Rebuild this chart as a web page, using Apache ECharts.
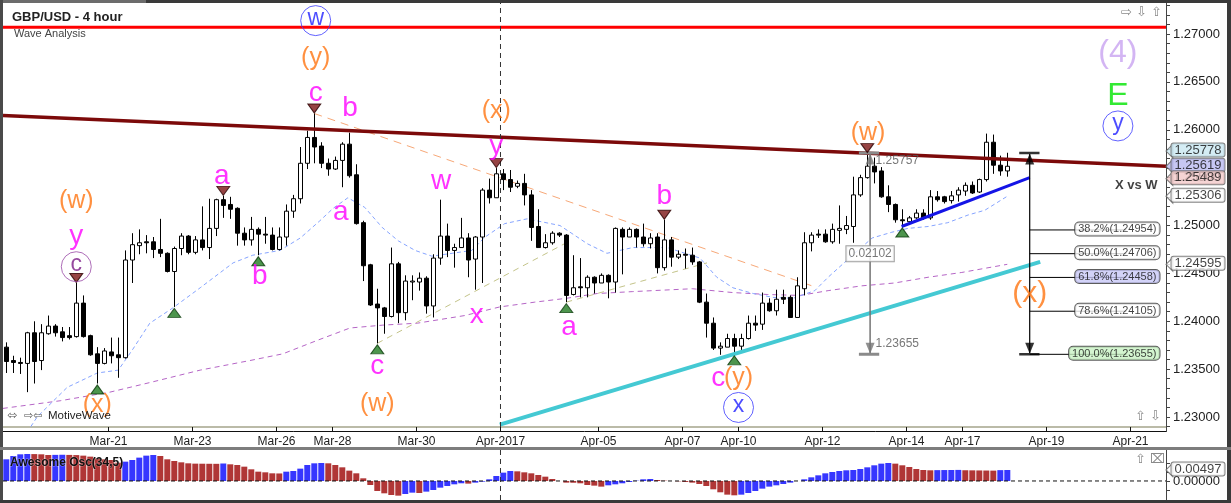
<!DOCTYPE html>
<html><head><meta charset="utf-8">
<script src="https://cdn.jsdelivr.net/npm/echarts@6/dist/echarts.min.js"></script>
<style>html,body{margin:0;padding:0;background:#fff;overflow:hidden}#c{width:1231px;height:503px}</style>
</head><body><div id="c"></div>
<script>
// ---------- DATA ----------
// 4-hour candles, one per bar index: [open, close, low, high]
const candles = [
[1.2373,1.2358,1.2346,1.2378],[1.2359,1.2357,1.2346,1.2364],[1.2357,1.2356,1.2345,1.2362],[1.2356,1.2388,1.2326,1.2389],
[1.2388,1.2358,1.2335,1.2400],[1.2359,1.2388,1.2349,1.2397],[1.2387,1.2395,1.2386,1.2406],[1.2395,1.2388,1.2384,1.2397],
[1.2389,1.2383,1.2379,1.2394],[1.2385,1.2383,1.2381,1.2394],[1.2384,1.2419,1.2383,1.2440],[1.2419,1.2384,1.2383,1.2427],
[1.2385,1.2365,1.2364,1.2386],[1.2366,1.2356,1.2335,1.2373],[1.2356,1.2369,1.2355,1.2372],[1.2368,1.2364,1.2356,1.2383],
[1.2365,1.2362,1.2341,1.2383],[1.2362,1.2464,1.2361,1.2474],[1.2464,1.2480,1.2440,1.2492],[1.2479,1.2482,1.2470,1.2496],
[1.2483,1.2482,1.2471,1.2490],[1.2483,1.2475,1.2466,1.2488],[1.2475,1.2471,1.2467,1.2507],[1.2471,1.2452,1.2451,1.2472],
[1.2452,1.2476,1.2415,1.2478],[1.2476,1.2489,1.2469,1.2492],[1.2489,1.2472,1.2470,1.2490],[1.2472,1.2485,1.2470,1.2489],
[1.2485,1.2477,1.2474,1.2520],[1.2477,1.2497,1.2465,1.2528],[1.2497,1.2527,1.2489,1.2528],[1.2527,1.2521,1.2508,1.2531],
[1.2522,1.2517,1.2507,1.2530],[1.2518,1.2492,1.2479,1.2519],[1.2492,1.2485,1.2479,1.2498],[1.2485,1.2496,1.2479,1.2509],
[1.2496,1.2491,1.2469,1.2498],[1.2491,1.2490,1.2481,1.2509],[1.2490,1.2475,1.2474,1.2498],[1.2475,1.2488,1.2474,1.2498],
[1.2488,1.2515,1.2479,1.2522],[1.2515,1.2528,1.2508,1.2532],[1.2528,1.2565,1.2523,1.2582],[1.2565,1.2592,1.2559,1.2599],
[1.2592,1.2582,1.2565,1.2617],[1.2583,1.2565,1.2560,1.2587],[1.2565,1.2559,1.2552,1.2570],[1.2559,1.2568,1.2558,1.2572],
[1.2568,1.2585,1.2540,1.2587],[1.2585,1.2552,1.2550,1.2597],[1.2553,1.2502,1.2501,1.2564],[1.2503,1.2458,1.2442,1.2505],
[1.2459,1.2417,1.2416,1.2460],[1.2418,1.2414,1.2377,1.2434],[1.2414,1.2405,1.2387,1.2415],[1.2405,1.2460,1.2404,1.2477],
[1.2460,1.2409,1.2398,1.2462],[1.2409,1.2442,1.2401,1.2448],[1.2441,1.2442,1.2422,1.2448],[1.2441,1.2445,1.2432,1.2451],
[1.2445,1.2416,1.2408,1.2447],[1.2416,1.2466,1.2404,1.2470],[1.2466,1.2489,1.2459,1.2527],[1.2489,1.2474,1.2467,1.2502],
[1.2474,1.2477,1.2456,1.2481],[1.2477,1.2487,1.2477,1.2508],[1.2487,1.2464,1.2446,1.2492],[1.2465,1.2488,1.2433,1.2489],
[1.2488,1.2537,1.2440,1.2539],[1.2537,1.2529,1.2523,1.2549],[1.2529,1.2554,1.2529,1.2560],[1.2554,1.2548,1.2537,1.2559],
[1.2548,1.2540,1.2535,1.2558],[1.2541,1.2544,1.2539,1.2547],[1.2544,1.2532,1.2521,1.2554],[1.2532,1.2498,1.2484,1.2537],
[1.2499,1.2477,1.2477,1.2517],[1.2477,1.2482,1.2476,1.2491],[1.2482,1.2492,1.2480,1.2494],[1.2492,1.2490,1.2488,1.2493],
[1.2490,1.2427,1.2420,1.2491],[1.2428,1.2435,1.2427,1.2469],[1.2436,1.2435,1.2425,1.2466],[1.2435,1.2446,1.2425,1.2448],
[1.2446,1.2440,1.2429,1.2447],[1.2440,1.2448,1.2440,1.2450],[1.2448,1.2441,1.2424,1.2449],[1.2441,1.2497,1.2430,1.2498],
[1.2496,1.2488,1.2449,1.2498],[1.2488,1.2496,1.2488,1.2498],[1.2496,1.2488,1.2477,1.2497],[1.2488,1.2481,1.2478,1.2502],
[1.2481,1.2487,1.2476,1.2492],[1.2488,1.2456,1.2450,1.2492],[1.2456,1.2485,1.2453,1.2506],[1.2485,1.2467,1.2457,1.2488],
[1.2467,1.2470,1.2465,1.2474],[1.2470,1.2469,1.2455,1.2476],[1.2469,1.2462,1.2459,1.2477],[1.2462,1.2420,1.2419,1.2463],
[1.2420,1.2398,1.2383,1.2429],[1.2398,1.2372,1.2370,1.2404],[1.2372,1.2374,1.2365,1.2378],[1.2373,1.2382,1.2373,1.2387],
[1.2382,1.2374,1.23655,1.2387],[1.2374,1.2382,1.2369,1.2387],[1.2382,1.2398,1.2381,1.2406],[1.2398,1.2396,1.2390,1.2406],
[1.2397,1.2419,1.2391,1.2430],[1.2419,1.2411,1.2410,1.2424],[1.2411,1.2423,1.2406,1.2433],[1.2425,1.2423,1.2418,1.2433],
[1.2425,1.2404,1.2404,1.2427],[1.2404,1.2437,1.2404,1.2446],[1.2434,1.2482,1.2427,1.2493],[1.2482,1.2490,1.2473,1.2493],
[1.2491,1.2490,1.2487,1.2496],[1.2491,1.2483,1.2482,1.2496],[1.2483,1.2496,1.2481,1.2502],[1.2495,1.2497,1.2481,1.2521],
[1.2496,1.2500,1.2491,1.2510],[1.2499,1.2532,1.2482,1.2551],[1.2532,1.2550,1.2530,1.2553],[1.2550,1.2562,1.2549,1.25757],
[1.2562,1.2556,1.2544,1.2571],[1.2557,1.2530,1.2529,1.2561],[1.2530,1.2522,1.2514,1.2542],[1.2522,1.2506,1.2503,1.2523],
[1.2506,1.2505,1.2499,1.2517],[1.2504,1.2508,1.2503,1.2510],[1.2508,1.2513,1.2507,1.2517],[1.2513,1.2508,1.2506,1.2517],
[1.2508,1.2530,1.2506,1.2537],[1.2530,1.2527,1.2525,1.2536],[1.2530,1.2525,1.2523,1.2531],[1.2526,1.2531,1.2523,1.2536],
[1.2532,1.2537,1.2525,1.2540],[1.2536,1.2542,1.2531,1.2545],[1.2542,1.2534,1.2533,1.2546],[1.2535,1.2548,1.2534,1.2549],
[1.2548,1.2587,1.2546,1.2596],[1.2587,1.2563,1.2554,1.2595],[1.2563,1.2557,1.2552,1.2573],[1.2557,1.25619,1.2551,1.2576]
];

// Awesome Oscillator (34,5), one value per bar
const aoValues = [
0.00979,0.01130,0.01205,0.01220,0.01215,0.01205,0.01175,0.01180,0.01185,0.01178,
0.01170,0.01145,0.01100,0.01024,0.00979,0.00949,0.00828,0.00873,0.00949,0.01055,
0.01145,0.01175,0.01130,0.00979,0.00903,0.00843,0.00798,0.00783,0.00780,0.00777,
0.00775,0.00790,0.00753,0.00723,0.00647,0.00527,0.00421,0.00391,0.00346,0.00340,
0.00421,0.00451,0.00557,0.00723,0.00798,0.00813,0.00798,0.00723,0.00617,0.00467,
0.00346,0.00120,-0.00181,-0.00452,-0.00558,-0.00633,-0.00663,-0.00588,-0.00528,-0.00543,
-0.00482,-0.00407,-0.00302,-0.00226,-0.00151,-0.00105,-0.00120,-0.00075,-0.00030,0.00075,
0.00225,0.00376,0.00451,0.00436,0.00391,0.00346,0.00270,0.00195,0.00090,0.00000,
-0.00075,-0.00080,-0.00105,-0.00181,-0.00211,-0.00256,-0.00196,-0.00151,-0.00105,-0.00045,
0.00014,0.00075,0.00090,0.00045,0.00014,0.00000,-0.00015,-0.00045,-0.00075,-0.00136,
-0.00226,-0.00377,-0.00512,-0.00618,-0.00648,-0.00618,-0.00543,-0.00452,-0.00347,-0.00256,
-0.00196,-0.00136,-0.00075,0.00000,0.00075,0.00165,0.00255,0.00346,0.00406,0.00451,
0.00482,0.00497,0.00542,0.00617,0.00708,0.00783,0.00813,0.00783,0.00708,0.00632,
0.00542,0.00497,0.00482,0.00490,0.00494,0.00497,0.00500,0.00485,0.00480,0.00476,
0.00472,0.00468,0.00490,0.00497
];

// moving averages: [bar index, price]
const blueMA = [[3.5,1.2290],[4.4,1.2300],[8.7,1.2331],[13,1.2346],[16,1.2349],[18,1.2370],[20.5,1.2398],[23.8,1.2414],[27.7,1.2435],[32.4,1.2461],[35.2,1.2469],[39.1,1.2474],[42,1.2487],[44.8,1.2505],[46.7,1.2518],[48.8,1.2529],[51.2,1.2519],[53.7,1.2498],[56,1.2484],[58.4,1.2474],[60.8,1.2468],[63.7,1.2471],[66.5,1.2474],[68.4,1.2488],[71.2,1.2502],[74.4,1.2507],[79.1,1.2500],[83,1.2481],[85.8,1.2471],[89.5,1.2477],[94.4,1.2477],[99.1,1.2466],[101.5,1.2446],[103.8,1.2435],[106.7,1.2429],[109.5,1.2425],[112.4,1.2424],[115.5,1.2432],[117.4,1.2446],[121.2,1.2471],[123.7,1.2487],[126.5,1.2493],[128.8,1.2497],[131.7,1.2499],[134.5,1.2503],[137.4,1.2511],[139.8,1.2516],[143,1.25306]];
const purpleMA = [[-0.5,1.2309],[7.7,1.2317],[14.8,1.2326],[20.5,1.2336],[27.7,1.2349],[34.8,1.2359],[39.5,1.2366],[44.4,1.2380],[49.1,1.2393],[53.8,1.2396],[58.7,1.2398],[65.5,1.2406],[70.5,1.2415],[75.5,1.2420],[80,1.2424],[84.4,1.2429],[89.5,1.2431],[98,1.2434],[103.8,1.2430],[108.7,1.2428],[113.4,1.2427],[117.4,1.2432],[122.2,1.2437],[126.9,1.2440],[131.7,1.2446],[136.5,1.2451],[143,1.24595]];

// x-axis day labels: [label, first bar of the day]
const dayTicks = [['Mar-21',15],['Mar-23',27],['Mar-26',39],['Mar-28',47],['Mar-30',59],['Apr-2017',71],['Apr-05',85],['Apr-07',97],['Apr-10',105],['Apr-12',117],['Apr-14',129],['Apr-17',137],['Apr-19',149],['Apr-21',161]];
const priceTicks = [1.23,1.235,1.24,1.245,1.25,1.255,1.26,1.265,1.27];
const monthSeparator = 'Apr-2017';

// drawn trend lines: [bar index, price] end points
const resistanceLine = [[-0.47,1.2615],[165.67,1.2562]];
const cyanSupport = [[70.5,1.2292],[147.7,1.2462]];
const blueSupport = [[127.9,1.2499],[146.2,1.2550]];
const orangeDashed = [[44,1.2617],[115.1,1.2437]];
const oliveDashed1 = [[53,1.2377],[80,1.2482]];
const oliveDashed2 = [[80,1.2420],[100.1,1.2461]];
const redLevel = 1.2707;

const pivotLows = [13,24,36,53,80,104,128];
const pivotHighs = [10,31,44,70,94,123];

// wave labels: [text, bar index, price, style]
const waveLabels = [
['(y)',44.2,1.2675,'orange'],['c',44.2,1.2638,'magenta'],['b',49.1,1.2622,'magenta'],
['(w)',10,1.2526,'orange'],['y',10,1.2489,'magenta'],['a',30.8,1.2551,'magenta'],
['a',47.8,1.2514,'magenta'],['b',36.2,1.2447,'magenta'],['(x)',13,1.2312,'orange'],
['c',53,1.2353,'magenta'],['(w)',53,1.2314,'orange'],['w',62.1,1.2546,'magenta'],
['x',67.2,1.2406,'magenta'],['(x)',70,1.2619,'orange'],['y',70,1.2583,'magenta'],
['a',80.4,1.2394,'magenta'],['b',94,1.2531,'magenta'],['c',101.7,1.2340,'magenta'],
['(y)',104.6,1.2341,'orange'],['(w)',123.1,1.2596,'orange'],['(x)',146.2,1.2429,'orangeBig'],
['(4)',158.8,1.2680,'lavender'],['E',158.8,1.2635,'green']
];
const circledLabels = [['w',44.2,1.2714,'blue'],['c',10,1.2457,'purple'],['x',104.6,1.2310,'blue'],['y',158.8,1.2604,'blue']];

// measurement W high -> X low
const wHigh = 1.25757, xLow = 1.23655;
const measureBar = 123.4, fibBar = 146.2;
const fibLevels = [['38.2%',1.24954,'#ffffff'],['50.0%',1.24706,'#ffffff'],['61.8%',1.24458,'#c8c8f6'],['78.6%',1.24105,'#ffffff'],['100.0%',1.23655,'#c9f3c4']];
const axisTags = [[1.25778,'#c9e7f1'],[1.25619,'#b9b9f0'],[1.25489,'#f3c9c9'],[1.25306,'#ffffff'],[1.24595,'#ffffff']];
const aoTag = 0.00497;

// ---------- CHART ----------
const FONT = '"Liberation Sans", Arial, sans-serif';
const X_MIN = -0.47, X_MAX = 165.67;
const Y_MIN = 1.22896, Y_MAX = 1.27324;
const AO_MIN = -0.0086, AO_MAX = 0.0140;
const COLORS = {magenta:'#ff00ff', orange:'#ff7410', orangeBig:'#ff7410', lavender:'#c8a2f0', green:'#00e400', blue:'#2020ff', purple:'#7a1a86'};
const SIZES = {magenta:28, orange:25, orangeBig:30, lavender:32, green:32};

const tickVals = dayTicks.map(d => d[1] - 0.4);
const minorTicks = [];
for (let k = 1229; k <= 1273; k++) minorTicks.push(k / 1000);

const aoColors = aoValues.map((v, i) => {
  if (i === 0) return '#3636ff';
  return v >= aoValues[i-1] ? '#3636ff' : '#b03636';
});
for (let i = 1; i < aoValues.length; i++) if (aoValues[i] === aoValues[i-1]) aoColors[i] = aoColors[i-1];

function seg(data, color, width, type, z, xi, yi) {
  return {type:'line', xAxisIndex: xi || 0, yAxisIndex: yi || 0, data, symbol:'none', silent:true, z: z || 4,
    lineStyle:{color, width, type: type || 'solid'}, animation:false};
}

const sepTick = tickVals[dayTicks.findIndex(d => d[0] === monthSeparator)];

const series = [];
series.push(seg(purpleMA, '#b565c6', 1, [5,4], 2));
series.push(seg(blueMA, '#86a4ff', 1, [4,3], 2));
series.push(seg(oliveDashed1, '#c4c48a', 1, [6,5], 2));
series.push(seg(oliveDashed2, '#c4c48a', 1, [6,5], 2));
series.push(seg(orangeDashed, '#f7a878', 1, [8,6], 2));
series.push({
  type:'candlestick', xAxisIndex:0, yAxisIndex:0, z:3, barWidth:5,
  data: candles.map((c, i) => [i, c[0], c[1], c[2], c[3]]),
  encode:{x:0, y:[1,2,3,4]},
  itemStyle:{color:'#ffffff', color0:'#000000', borderColor:'#000000', borderColor0:'#000000', borderColorDoji:'#000000', borderWidth:1},
  animation:false, silent:true
});
series.push(seg(resistanceLine, '#7c0a0a', 3.5, 'solid', 5));
series.push(seg(cyanSupport, '#44c9d3', 4, 'solid', 5));
series.push(seg(blueSupport, '#1414e6', 3, 'solid', 5));
// red level + month separator
series.push(seg([[X_MIN, redLevel],[X_MAX, redLevel]], '#ff0000', 3, 'solid', 5));
series.push(seg([[sepTick, Y_MIN],[sepTick, Y_MAX]], '#333', 1, [5,4], 5));
// gray measurement
const gray = '#747474';
series.push(seg([[measureBar, wHigh],[measureBar, xLow]], gray, 1.5, 'solid', 6));
series.push(seg([[measureBar-1.6, wHigh],[measureBar+1.3, wHigh]], '#8a8a8a', 3, 'solid', 6));
series.push(seg([[measureBar-1.6, xLow],[measureBar+1.3, xLow]], '#8a8a8a', 3, 'solid', 6));
// black fib tool
series.push(seg([[fibBar, wHigh],[fibBar, xLow]], '#000', 1.2, 'solid', 6));
series.push(seg([[fibBar-1.5, wHigh],[fibBar+1.4, wHigh]], '#333', 2.5, 'solid', 6));
series.push(seg([[fibBar-1.5, xLow],[fibBar+1.4, xLow]], '#333', 2.5, 'solid', 6));
fibLevels.forEach(f => series.push(seg([[fibBar, f[1]],[160, f[1]]], '#000', 1, 'solid', 6)));

// arrows
series.push({type:'scatter', xAxisIndex:0, yAxisIndex:0, z:7, silent:true, animation:false,
  data:[
    {value:[measureBar, wHigh], symbol:'triangle', symbolSize:[9,11], symbolOffset:[0,6], itemStyle:{color:gray}},
    {value:[measureBar, xLow], symbol:'triangle', symbolRotate:180, symbolSize:[9,11], symbolOffset:[0,-6], itemStyle:{color:gray}},
    {value:[fibBar, wHigh], symbol:'triangle', symbolSize:[9,11], symbolOffset:[0,6], itemStyle:{color:'#000'}},
    {value:[fibBar, xLow], symbol:'triangle', symbolRotate:180, symbolSize:[9,11], symbolOffset:[0,-6], itemStyle:{color:'#000'}}
  ]});
// measurement texts
series.push({type:'scatter', xAxisIndex:0, yAxisIndex:0, z:8, silent:true, animation:false, symbolSize:1, itemStyle:{color:'rgba(0,0,0,0)'},
  data:[
    {value:[measureBar, wHigh], label:{show:true, position:[6,2], formatter: wHigh.toFixed(5), color:'#555', fontSize:12, fontFamily:FONT}},
    {value:[measureBar, xLow], label:{show:true, position:[6,-16], formatter: xLow.toFixed(5), color:'#555', fontSize:12, fontFamily:FONT}},
    {value:[measureBar, (wHigh + xLow) / 2], label:{show:true, position:'inside', formatter:(wHigh - xLow).toFixed(5), color:'#555', fontSize:12, fontFamily:FONT, backgroundColor:'#fff', borderColor:'#888', borderWidth:1, padding:[2,2,1,2]}}
  ]});
// fib level labels
series.push({type:'scatter', xAxisIndex:0, yAxisIndex:0, z:8, silent:true, animation:false, clip:false, symbolSize:1, itemStyle:{color:'rgba(0,0,0,0)'},
  data: fibLevels.map(f => ({value:[X_MAX, f[1]], label:{show:true, position:[-6,-7], align:'right', formatter: f[0] + '(' + f[1].toFixed(5) + ')', color:'#111', fontSize:11, fontFamily:FONT, lineHeight:12, backgroundColor:f[2], borderColor:'#333', borderWidth:1, borderRadius:4, padding:[1,3,0,3]}}))
    .concat([{value:[X_MAX, (fibLevels[0][1] + wHigh) / 2 + 0.0004], label:{show:true, position:[-8,-8], align:'right', formatter:'X vs W', color:'#111', fontSize:13, fontWeight:'bold', fontFamily:FONT}}])
});
// pivot markers
series.push({type:'scatter', xAxisIndex:0, yAxisIndex:0, z:7, silent:true, animation:false, symbol:'triangle', symbolSize:[13,9],
  data: pivotLows.map(i => ({value:[i, candles[i][2]], symbolOffset:[0,6], itemStyle:{color:'#207a20', borderColor:'#0b3a0b', borderWidth:1}}))
    .concat(pivotHighs.map(i => ({value:[i, candles[i][3]], symbolRotate:180, symbolOffset:[0,-5], itemStyle:{color:'#7c1515', borderColor:'#2a0000', borderWidth:1}})))
});
// wave labels
series.push({type:'scatter', xAxisIndex:0, yAxisIndex:0, z:9, silent:true, animation:false, clip:false, symbolSize:1, itemStyle:{color:'rgba(0,0,0,0)'},
  data: waveLabels.map(w => ({value:[w[1], w[2]], label:{show:true, position:'inside', formatter:w[0], color:COLORS[w[3]], fontSize:SIZES[w[3]], fontFamily:FONT}}))
});
series.push({type:'scatter', xAxisIndex:0, yAxisIndex:0, z:9, silent:true, animation:false, clip:false, symbol:'circle', symbolSize:30,
  data: circledLabels.map(w => ({value:[w[1], w[2]], itemStyle:{color:'rgba(255,255,255,0)', borderColor: w[3]==='blue' ? '#3b3bff' : '#9a4aa6', borderWidth:1},
    label:{show:true, position:'inside', formatter:w[0], color:COLORS[w[3]], fontSize:23, fontFamily:FONT, offset:[0,-2]}}))
});
// axis price tags
function tagSeries(list, xi, yi, digits) {
  return [{type:'scatter', xAxisIndex:xi, yAxisIndex:yi, z:10, silent:true, animation:false, clip:false,
    symbol:'triangle', symbolRotate:90, symbolSize:[14,7], symbolOffset:[3.5,0],
    data:list.map(t => ({value:[X_MAX, t[0]], itemStyle:{color:t[1], borderColor:'#666', borderWidth:1}}))},
   {type:'scatter', xAxisIndex:xi, yAxisIndex:yi, z:11, silent:true, animation:false, clip:false, symbolSize:1, itemStyle:{color:'rgba(0,0,0,0)'},
    data:list.map(t => ({value:[X_MAX, t[0]], label:{show:true, position:[6,-7], formatter:t[0].toFixed(digits), color:'#111', fontSize:13, fontFamily:FONT, lineHeight:13, backgroundColor:t[1], borderColor:'#666', borderWidth:1, borderRadius:2, padding:[0,3,0,3]}}))}];
}
tagSeries(axisTags, 0, 0, 5).forEach(s => series.push(s));
// AO
series.push({type:'bar', xAxisIndex:1, yAxisIndex:1, barWidth:6, animation:false, silent:true,
  data: aoValues.map((v, i) => ({value:[i, v], itemStyle:{color:aoColors[i]}}))});
series.push(seg([[X_MIN, 0],[X_MAX, 0]], '#111', 1, [4,3], 5, 1, 1));
series.push(seg([[sepTick, AO_MIN],[sepTick, AO_MAX]], '#333', 1, [5,4], 5, 1, 1));
tagSeries([[aoTag,'#ffffff']], 1, 1, 5).forEach(s => series.push(s));

const txt = (x, y, text, font, fill, extra) => Object.assign({type:'text', x, y, silent:true, z:100,
  style:Object.assign({text, font, fill, verticalAlign:'middle'}, extra || {})});

const option = {
  animation:false,
  backgroundColor:'#ffffff',
  textStyle:{fontFamily:FONT},
  grid:[
    {left:3, top:3, width:1163, height:424, outerBoundsMode:'none', containLabel:false},
    {left:3, top:450, width:1163, height:50, outerBoundsMode:'none', containLabel:false}
  ],
  xAxis:[
    {type:'value', gridIndex:0, min:X_MIN, max:X_MAX, splitLine:{show:false},
     axisLine:{show:true, onZero:false, lineStyle:{color:'#a5a58c', width:1.5}},
     axisTick:{show:true, customValues:tickVals, length:5, lineStyle:{color:'#111'}},
     axisLabel:{show:true, customValues:tickVals, margin:9, fontSize:12, color:'#222', fontFamily:FONT,
       formatter:v => { const k = tickVals.findIndex(t => Math.abs(t - v) < 0.01); return k >= 0 ? dayTicks[k][0] : ''; }}},
    {type:'value', gridIndex:1, min:X_MIN, max:X_MAX, show:false}
  ],
  yAxis:[
    {type:'value', gridIndex:0, position:'right', min:Y_MIN, max:Y_MAX, splitLine:{show:false}, scale:true,
     axisLine:{show:true, onZero:false, lineStyle:{color:'#444'}},
     axisTick:{show:true, customValues:minorTicks, length:4, lineStyle:{color:'#444'}},
     axisLabel:{show:true, customValues:priceTicks, formatter:v => v.toFixed(5), margin:7, fontSize:13, color:'#222', fontFamily:FONT}},
    {type:'value', gridIndex:1, position:'right', min:AO_MIN, max:AO_MAX, splitLine:{show:false},
     axisLine:{show:true, onZero:false, lineStyle:{color:'#444'}},
     axisTick:{show:true, customValues:[-0.004,0,0.004,0.008], length:4, lineStyle:{color:'#444'}},
     axisLabel:{show:true, customValues:[0], formatter:() => '0.00000', margin:7, fontSize:13, color:'#222', fontFamily:FONT}}
  ],
  graphic:[
    {type:'rect', shape:{x:0,y:0,width:1231,height:3}, style:{fill:'#3a3a3a'}, silent:true, z:100},
    {type:'rect', shape:{x:0,y:0,width:146,height:3}, style:{fill:'#6c6c6c'}, silent:true, z:100},
    {type:'rect', shape:{x:0,y:0,width:3,height:503}, style:{fill:'#4a4a4a'}, silent:true, z:100},
    {type:'rect', shape:{x:1227,y:0,width:4,height:503}, style:{fill:'#3a3a3a'}, silent:true, z:100},
    {type:'rect', shape:{x:0,y:500,width:1231,height:3}, style:{fill:'#3a3a3a'}, silent:true, z:100},
    {type:'rect', shape:{x:0,y:447,width:1231,height:3}, style:{fill:'#7d7d7d'}, silent:true, z:100},
    {type:'line', shape:{x1:3,y1:431.5,x2:1166,y2:431.5}, style:{stroke:'#111', lineWidth:1}, silent:true, z:100},
    {type:'line', shape:{x1:1166.5,y1:427,x2:1166.5,y2:432}, style:{stroke:'#444', lineWidth:1}, silent:true, z:100},
    txt(12, 17, 'GBP/USD - 4 hour', 'bold 13px ' + FONT, '#222'),
    txt(14, 34, 'Wave Analysis', '11px ' + FONT, '#444'),
    txt(7, 416, '\u2B04', '12px "DejaVu Sans"', '#555'),
    txt(24, 416, '\u21E8\u21E6', '11px "DejaVu Sans"', '#555'),
    txt(48, 416, 'MotiveWave', '11.5px ' + FONT, '#222'),
    txt(1121, 13, '\u21E8 \u21E9 \u21E7', '13px "DejaVu Sans"', '#8a8a8a'),
    txt(1135, 417, '\u21E7 \u21E9', '13px "DejaVu Sans"', '#8a8a8a'),
    txt(1135, 460, '\u21E7 \u2327', '13px "DejaVu Sans"', '#8a8a8a'),
    txt(10, 463, 'Awesome Osc(34,5)', 'bold 12px ' + FONT, '#111', {stroke:'rgba(255,255,255,0.35)', lineWidth:1})
  ],
  series
};
const chart = echarts.init(document.getElementById('c'), null, {renderer:'canvas', width:1231, height:503});
chart.setOption(option);
</script>
</body></html>
